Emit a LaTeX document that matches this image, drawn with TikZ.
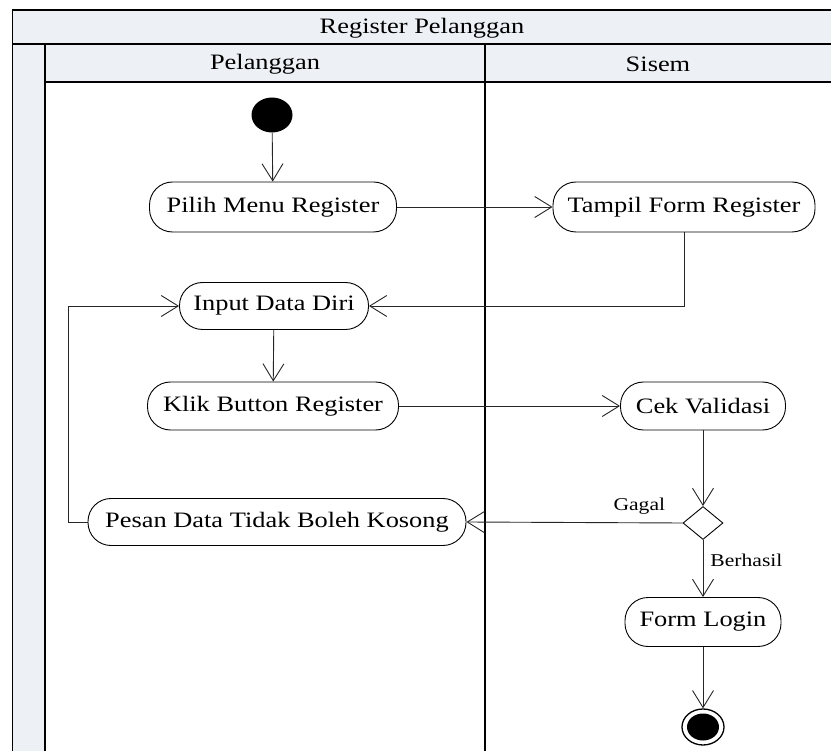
\documentclass[tikz,border=0pt]{standalone}
\usepackage{fontspec}
\setmainfont{Liberation Serif}[FakeStretch=1.2]
\usetikzlibrary{arrows.meta,shapes.geometric}
\definecolor{lanegray}{RGB}{237,240,245}
\tikzset{
  act/.style={draw=black,line width=0.9pt,rounded corners=23pt,inner sep=0pt,
    font=\fontsize{22}{26}\selectfont,fill=white},
  flow/.style={draw=black!85,line width=0.9pt,-{Straight Barb[length=17pt,width=21pt,line width=0.9pt]}},
  frameline/.style={line width=1.8pt,draw=black},
  lbl/.style={font=\fontsize{18}{21}\selectfont,inner sep=0pt},
  hdr/.style={font=\fontsize{22}{26}\selectfont,inner sep=0pt}
}
\begin{document}
\begin{tikzpicture}[x=1pt,y=-1pt]
\useasboundingbox (0,0) rectangle (831,751);
% swimlane frame
\fill[lanegray] (12.5,10) rectangle (831,44);
\fill[lanegray] (12.5,44) rectangle (45,751);
\fill[lanegray] (45,44) rectangle (831,82);
\draw[frameline] (12.5,751) -- (12.5,10) -- (831,10);
\draw[frameline] (12.5,44) -- (831,44);
\draw[frameline] (45,44) -- (45,751);
\draw[frameline] (45,82) -- (831,82);
\draw[frameline] (485,44) -- (485,751);
\node[hdr] (title) at (422,28) {Register Pelanggan};
\node[hdr] (lane1) at (265,64) {Pelanggan};
\node[hdr] (lane2) at (658,64) {Sisem};
% nodes
\node[ellipse,fill=black,minimum width=41pt,minimum height=35pt,inner sep=0pt] (start) at (272,115) {};
\node[act,minimum width=247pt,minimum height=50pt] (pilih) at (273,207) {Pilih Menu Register};
\node[act,minimum width=262pt,minimum height=50pt] (tampil) at (684,207) {Tampil Form Register};
\node[act,minimum width=189pt,minimum height=47pt] (input) at (274,306) {Input Data Diri};
\node[act,minimum width=251pt,minimum height=48pt] (klik) at (273,406) {Klik Button Register};
\node[act,minimum width=165pt,minimum height=48pt] (cek) at (703,406) {Cek Validasi};
\node[diamond,draw=black,line width=0.9pt,minimum width=40pt,minimum height=33pt,inner sep=0pt] (dec) at (703,523) {};
\node[act,minimum width=378pt,minimum height=47pt] (pesan) at (277,522) {Pesan Data Tidak Boleh Kosong};
\node[act,minimum width=156pt,minimum height=49pt] (login) at (703,622) {Form Login};
\node[ellipse,draw=black,line width=1.3pt,minimum width=42pt,minimum height=36pt,inner sep=0pt] (end) at (703,727) {};
\node[ellipse,fill=black,minimum width=32pt,minimum height=27pt,inner sep=0pt] (endin) at (end.center) {};
% connectors
\draw[flow] (start) -- (pilih);
\draw[flow] (pilih) -- (tampil);
\draw[flow] (tampil.south) |- (input.east);
\draw[flow] (input) -- (klik);
\draw[flow] (klik) -- (cek);
\draw[flow] (cek) -- (dec.north);
\draw[flow] (dec.west) -- node[lbl,pos=0.2,above=8pt] (gagal) {Gagal} (pesan.east);
\draw[flow] (dec.south) -- node[lbl,pos=0.35,right=7pt] (berhasil) {Berhasil} (login.north);
\coordinate (loopc) at (68,522);
\draw[flow] (pesan.west) -- (loopc) |- (input.west);
\draw[flow] (login) -- (end.north);
\end{tikzpicture}
\end{document}
